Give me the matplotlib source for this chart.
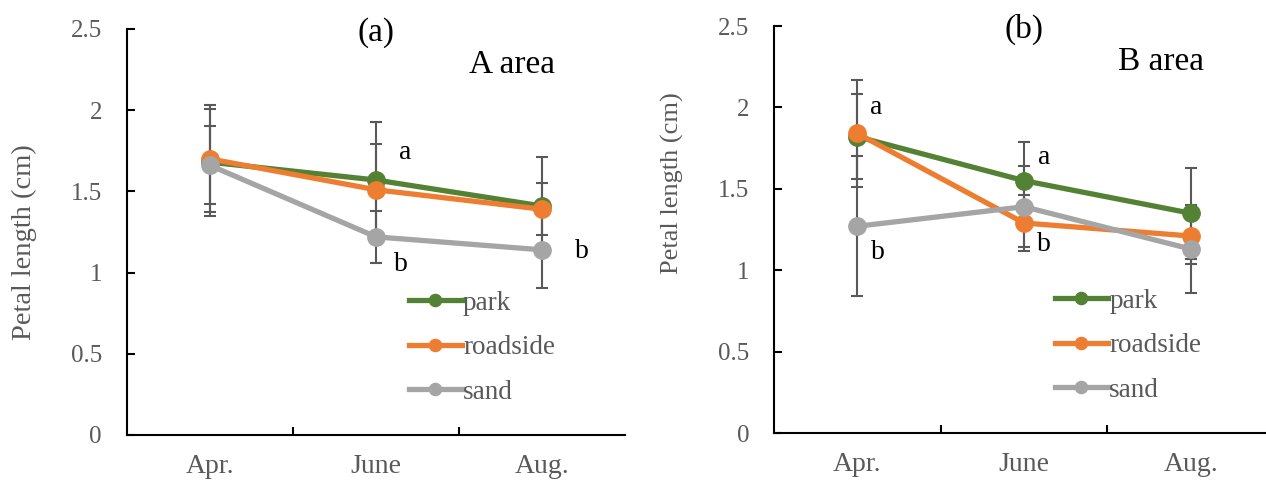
import matplotlib.pyplot as plt
import numpy as np

plt.rcParams['font.family'] = ['Liberation Serif', 'DejaVu Serif']

months = ['Apr.', 'June', 'Aug.']
series = ['park', 'roadside', 'sand']
colors = ['#548235', '#ED7D31', '#A5A5A5']

# panel (a) - A area
a_mean = {'park': [1.68, 1.57, 1.41],
          'roadside': [1.70, 1.51, 1.39],
          'sand': [1.66, 1.22, 1.14]}
a_err = {'park': [0.33, 0.36, 0.30],
         'roadside': [0.33, 0.28, 0.16],
         'sand': [0.24, 0.16, 0.235]}

# panel (b) - B area
b_mean = {'park': [1.82, 1.55, 1.35],
          'roadside': [1.84, 1.29, 1.21],
          'sand': [1.27, 1.39, 1.13]}
b_err = {'park': [0.26, 0.24, 0.28],
         'roadside': [0.33, 0.17, 0.17],
         'sand': [0.43, 0.25, 0.27]}

# letters (text, x, y)
a_letters = [('a', 1.175, 1.74), ('b', 1.15, 1.05), ('b', 2.24, 1.13)]
b_letters = [('a', 0.112, 2.0), ('a', 1.12, 1.69), ('b', 1.12, 1.16), ('b', 0.124, 1.11)]

fig = plt.figure(figsize=(12.66, 4.8), dpi=100)
ax1 = fig.add_axes([0.1003, 0.0938, 0.3934, 0.8458])
ax2 = fig.add_axes([0.6114, 0.0979, 0.395, 0.8479])


def draw(ax, mean, err, letters, tag, area, leg_x, leg_y, ylab_size, ylab_y):
    x = np.arange(len(months))
    for s in series:
        ax.errorbar(x, mean[s], yerr=err[s], fmt='none', ecolor='#595959',
                    elinewidth=1.5, capsize=4.5, capthick=1.5, zorder=1)
    for s, c in zip(series, colors):
        ax.plot(x, mean[s], color=c, lw=3.8, marker='o', ms=12.5, label=s, zorder=3)
    ax.set_xlim(-0.5, 2.5)
    ax.set_ylim(0, 2.5)
    ax.set_yticks([0, 0.5, 1, 1.5, 2, 2.5])
    ax.set_yticklabels(['0', '0.5', '1', '1.5', '2', '2.5'])
    ax.set_xticks(x)
    ax.set_xticklabels(months)
    ax.set_xticks([0.5, 1.5], minor=True)
    ax.tick_params(axis='x', which='major', length=0, pad=14, labelsize=20, labelcolor='#595959')
    ax.tick_params(axis='x', which='minor', direction='in', length=6, width=1.5)
    ax.tick_params(axis='y', direction='in', length=6, width=1.5, pad=18,
                   labelsize=18, labelcolor='#595959')
    for sp in ['top', 'right']:
        ax.spines[sp].set_visible(False)
    for sp in ['left', 'bottom']:
        ax.spines[sp].set_linewidth(1.5)
    ax.set_ylabel('Petal length (cm)', fontsize=ylab_size, color='#595959')
    ax.yaxis.set_label_coords(-0.18, ylab_y)
    ax.text(1.0, 2.48, tag, fontsize=24, ha='center', va='center')
    ax.text(1.82, 2.28, area, fontsize=24, ha='center', va='center')
    for t, tx, ty in letters:
        ax.text(tx, ty, t, fontsize=20, ha='center', va='center')
    leg = ax.legend(loc='upper left', bbox_to_anchor=(leg_x, leg_y), frameon=False,
                    fontsize=19.5, handlelength=1.95, handletextpad=0.05,
                    labelspacing=0.72, borderpad=0, borderaxespad=0,
                    markerscale=0.7)
    for t in leg.get_texts():
        t.set_color('#595959')


draw(ax1, a_mean, a_err, a_letters, '(a)', 'A area', 0.566, 0.355, 20.5, 0.475)
draw(ax2, b_mean, b_err, b_letters, '(b)', 'B area', 0.562, 0.355, 19, 0.614)

fig.savefig('out.png', dpi=100)
